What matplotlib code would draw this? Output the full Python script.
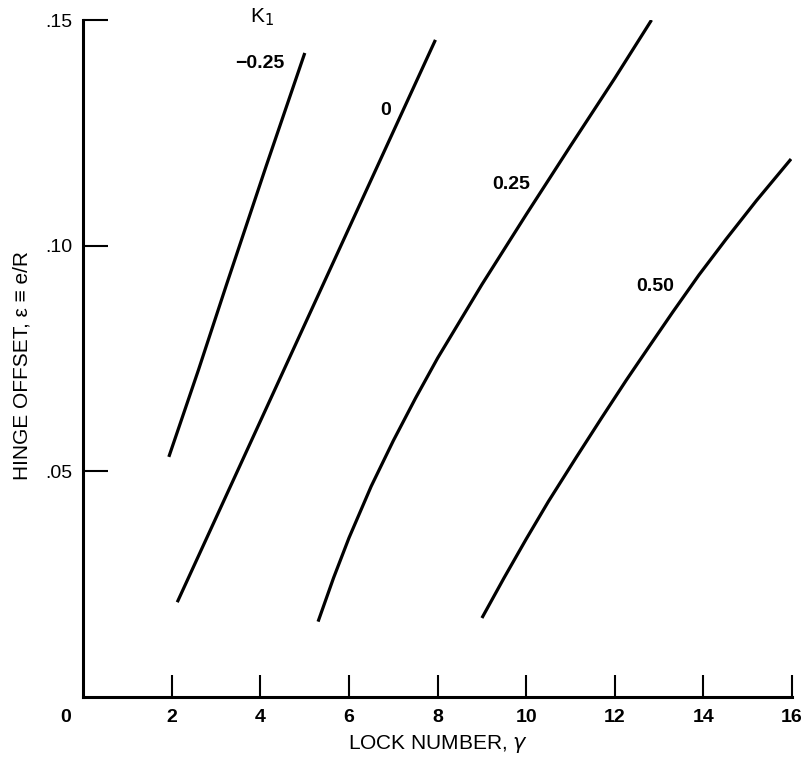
import numpy as np
import matplotlib
matplotlib.use("Agg")
import matplotlib.pyplot as plt
import matplotlib.transforms as mtransforms

# curves (lock number, hinge offset)
k_m025_x = [1.93, 2.6, 3.23, 4.13, 5.0]
k_m025_y = [0.0532, 0.0725, 0.0913, 0.1177, 0.1427]

k_0_x = [2.12, 3.5, 4.88, 6.92, 7.95]
k_0_y = [0.021, 0.0505, 0.080, 0.1236, 0.1456]

k_025_x = [5.30, 5.65, 6.0, 6.5, 7.0, 7.5, 8.0, 9.0, 10.0, 11.0, 12.0, 12.83]
k_025_y = [0.0167, 0.0264, 0.0353, 0.0467, 0.0568, 0.0662, 0.0751, 0.0914,
           0.1069, 0.1221, 0.1371, 0.1500]

k_050_x = [9.00, 9.5, 10.0, 10.5, 11.13, 11.7, 12.26, 12.8, 13.31, 13.9, 14.51, 15.2, 15.98]
k_050_y = [0.0175, 0.0264, 0.0350, 0.0433, 0.0531, 0.0618, 0.0702, 0.0780,
           0.0853, 0.0935, 0.1014, 0.1100, 0.1192]

curve_labels = ["\u22120.25", "0", "0.25", "0.50"]
label_pos = [(3.99, 0.1404), (6.83, 0.1300), (9.67, 0.1136), (12.92, 0.0910)]

x_ticks = [2, 4, 6, 8, 10, 12, 14, 16]
y_ticks = [0.05, 0.10, 0.15]
y_tick_labels = [".05", ".10", ".15"]

plt.rcParams['font.family'] = ['Liberation Sans', 'DejaVu Sans']

fig = plt.figure(figsize=(8.07, 7.61), dpi=100)
ax = fig.add_axes([0.1033, 0.0841, 0.8780, 0.8896])

for xs, ys in [(k_m025_x, k_m025_y), (k_0_x, k_0_y), (k_025_x, k_025_y), (k_050_x, k_050_y)]:
    ax.plot(xs, ys, color="black", lw=2.3, solid_capstyle="butt", solid_joinstyle="round")

for lab, (lx, ly) in zip(curve_labels, label_pos):
    ax.text(lx, ly, lab, ha="center", va="center", fontsize=14, fontweight="bold")

ax.text(4.03, 0.1506, "K$_1$", ha="center", va="center", fontsize=15, clip_on=False)

ax.set_xlim(0, 16)
ax.set_ylim(0, 0.15)
ax.set_xticks(x_ticks)
ax.set_xticklabels([str(t) for t in x_ticks], fontsize=14, fontweight="bold")
ax.set_yticks(y_ticks)
ax.set_yticklabels(y_tick_labels, fontsize=14)
ax.tick_params(axis="x", direction="in", length=16, width=1.5, pad=9)
ax.tick_params(axis="y", direction="in", length=18, width=1.5, pad=8)

# origin label sits left of the axis
trans = mtransforms.blended_transform_factory(fig.transFigure, ax.transAxes)
ax.text(66 / 807, -0.018, "0", transform=trans, ha="center", va="top", fontsize=14,
        fontweight="bold", clip_on=False)

for side in ["top", "right"]:
    ax.spines[side].set_visible(False)
for side in ["left", "bottom"]:
    ax.spines[side].set_linewidth(2.2)

ax.set_xlabel("LOCK NUMBER, $\\gamma$", fontsize=15, labelpad=5)
fig.text(22 / 807, 1 - 365 / 761, "HINGE OFFSET, \u03b5 \u2261 e/R", rotation=90,
         ha="center", va="center", fontsize=15)

fig.savefig("out.png", dpi=100)
